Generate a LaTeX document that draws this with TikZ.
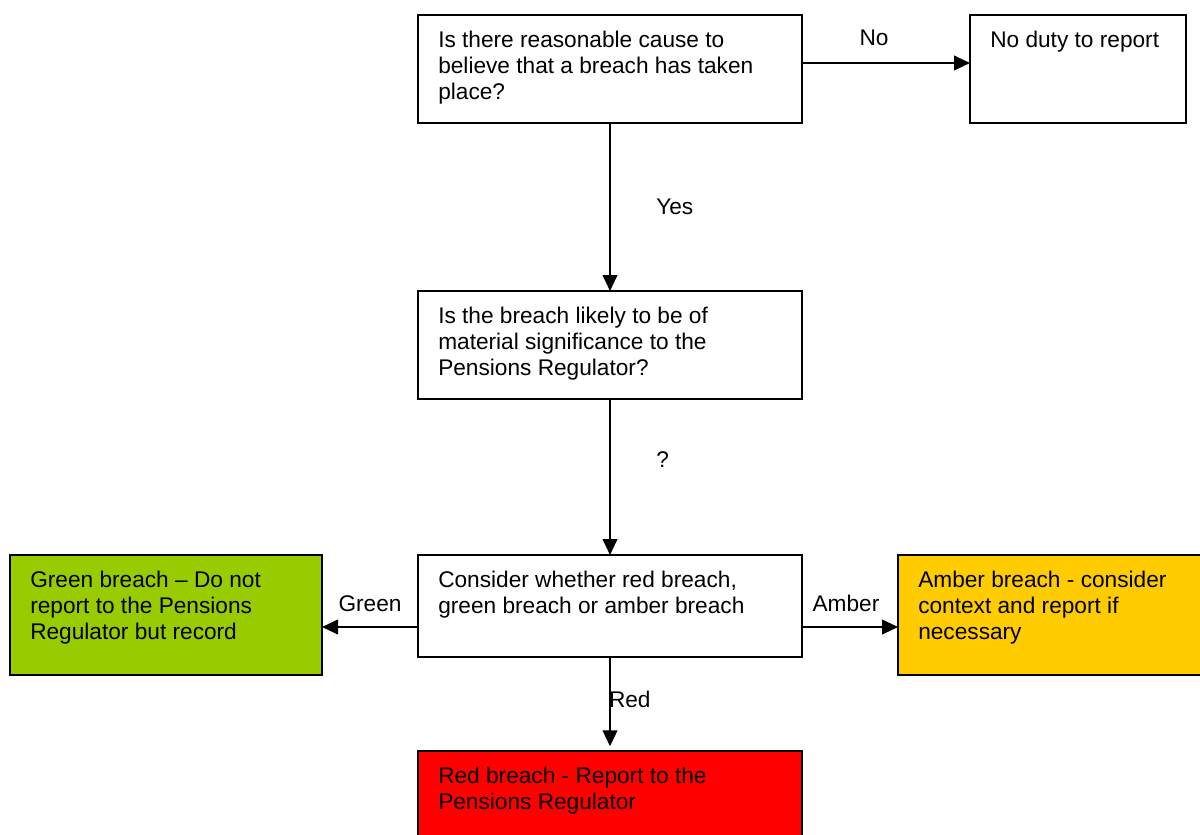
\documentclass[tikz,border=0pt]{standalone}
\usepackage{fontspec}
\setmainfont{Liberation Sans}
\usepackage{xcolor}
\usetikzlibrary{positioning, arrows.meta, calc}

\definecolor{greenbr}{HTML}{99CC00}
\definecolor{amberbr}{HTML}{FFCC00}
\definecolor{redbr}{HTML}{FF0000}

\begin{document}
\begin{tikzpicture}[
    x=0.75pt, y=-0.75pt,
    >={Triangle[length=12pt, width=11pt]},
    box/.style={
        rectangle, draw=black, line width=1.5pt,
        anchor=north west, inner sep=0pt, outer sep=0pt
    },
    txt/.style={
        anchor=north west, align=left, inner sep=0pt,
        xshift=15pt, yshift=-12pt,
        font=\fontsize{17pt}{19.5pt}\selectfont
    },
    arr/.style={line width=1.5pt, ->},
    lbl/.style={inner sep=0pt, font=\fontsize{17pt}{19.5pt}\selectfont},
]
\clip (0,0) rectangle (1200,835);
\fill[white] (0,0) rectangle (1200,835);

% Question boxes down the middle
\node[box, minimum width=288pt, minimum height=81pt,
      label={[txt]north west:Is there reasonable cause to\\believe that a breach has taken\\place?}]
      at (418,15) (cause) {};
\node[box, minimum width=162pt, minimum height=81pt,
      label={[txt]north west:No duty to report}]
      at (970,15) (noduty) {};
\node[box, minimum width=288pt, minimum height=81pt,
      label={[txt]north west:Is the breach likely to be of\\material significance to the\\Pensions Regulator?}]
      at (418,291) (signif) {};
\node[box, minimum width=288pt, minimum height=76.5pt,
      label={[txt]north west:Consider whether red breach,\\green breach or amber breach}]
      at (418,555) (consider) {};

% Outcome boxes
\node[box, fill=greenbr, minimum width=234pt, minimum height=90pt,
      label={[txt]north west:Green breach -- Do not\\report to the Pensions\\Regulator but record}]
      at (10,555) (green) {};
\node[box, fill=amberbr, minimum width=240pt, minimum height=90pt,
      label={[txt]north west:Amber breach - consider\\context and report if\\necessary}]
      at (898,555) (amber) {};
\node[box, fill=redbr, minimum width=288pt, minimum height=80pt,
      label={[txt]north west:Red breach - Report to the\\Pensions Regulator}]
      at (418,751) (red) {};

% Connectors
\draw[arr] ([yshift=4.5pt]cause.east) -- node[lbl, above=12.5pt, xshift=-9pt] {No} ([yshift=4.5pt]noduty.west);
\draw[arr] (cause.south) -- node[lbl, right=34pt] {Yes} (signif.north);
\draw[arr] (signif.south) -- node[lbl, pos=0.39, right=34pt] {?} (consider.north);
\draw[arr] ([yshift=-15.75pt]consider.west) -- node[lbl, above=11pt] {Green} ([yshift=-9pt]green.east);
\draw[arr] ([yshift=-15.75pt]consider.east) -- node[lbl, above=11pt, xshift=-3pt] {Amber} ([yshift=-9pt]amber.west);
\draw[arr, shorten >=3.5pt] (consider.south) -- node[lbl, right, xshift=-1.5pt, yshift=3.5pt] {Red} (red.north);

\end{tikzpicture}
\end{document}
